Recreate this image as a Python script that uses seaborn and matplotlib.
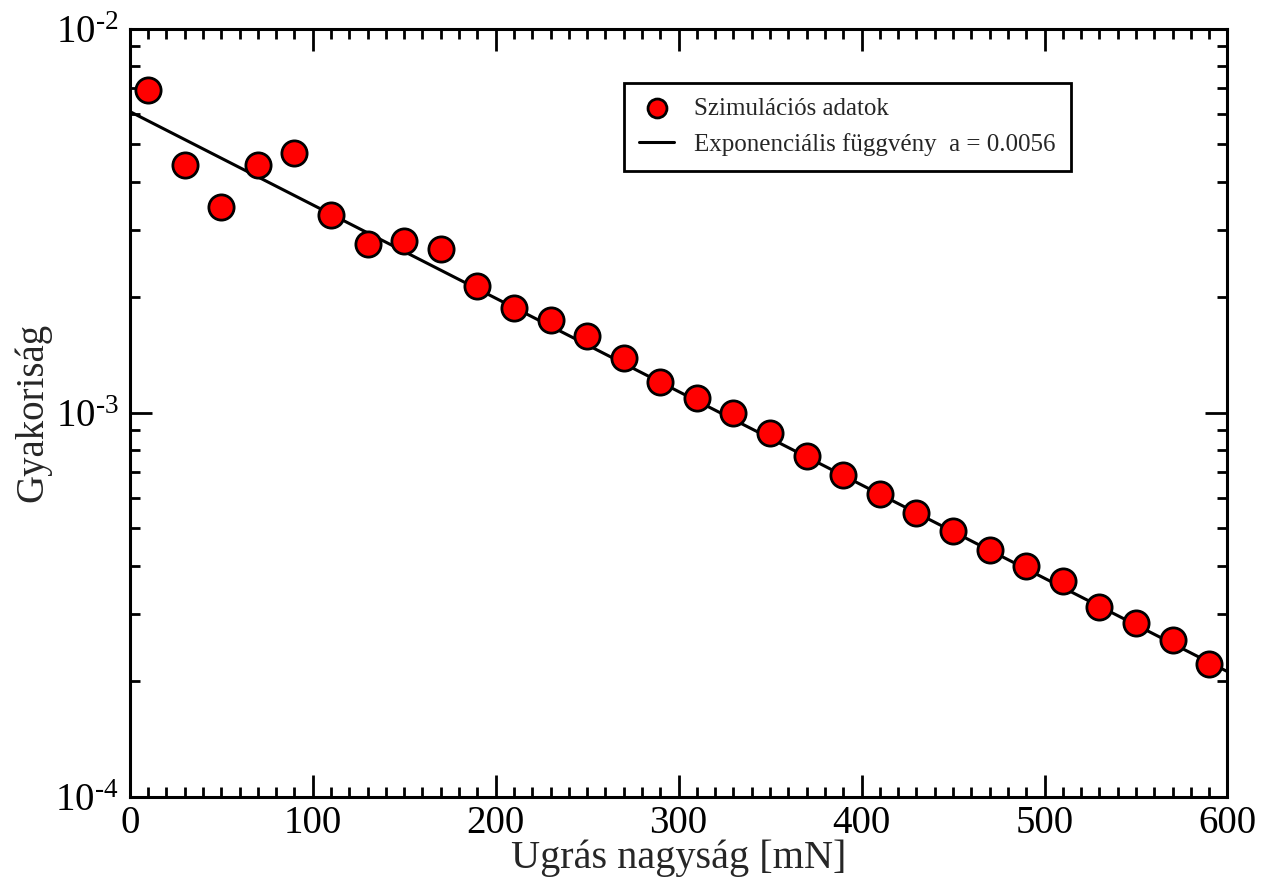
import numpy as np
import pandas as pd
import matplotlib
matplotlib.use("Agg")
import matplotlib.pyplot as plt
import matplotlib.ticker as mticker
import seaborn as sns

# Data
jump_size = [10, 30, 50, 70, 90, 110, 130, 150, 170, 190, 210, 230, 250, 270, 290,
             310, 330, 350, 370, 390, 410, 430, 450, 470, 490, 510, 530, 550, 570, 590]
frequency = [0.00693, 0.00442, 0.00343, 0.00441, 0.00474, 0.00328, 0.00275, 0.00281,
             0.00267, 0.00214, 0.00188, 0.00175, 0.00159, 0.00139, 0.00120, 0.00109,
             0.00100, 0.000887, 0.000773, 0.000690, 0.000615, 0.000549, 0.000493,
             0.000440, 0.000400, 0.000364, 0.000313, 0.000284, 0.000256, 0.000222]

# Exponential fit line (straight on log axis) - end points
fit_x = [0, 600]
fit_y = [0.00609, 0.000212]

sim_label = "Szimulációs adatok"
fit_label = "Exponenciális függvény  a = 0.0056"

df_sim = pd.DataFrame({"x": jump_size, "y": frequency})
df_fit = pd.DataFrame({"x": fit_x, "y": fit_y})

sns.set_style("ticks")
plt.rcParams["font.family"] = ["Liberation Serif", "DejaVu Serif"]
plt.rcParams["mathtext.fontset"] = "custom"
plt.rcParams["mathtext.rm"] = "Liberation Serif"
plt.rcParams["mathtext.it"] = "Liberation Serif:italic"

fig = plt.figure(figsize=(12.72, 8.82), dpi=100)
ax = fig.add_axes([0.102, 0.0964, 0.863, 0.871])

sns.lineplot(data=df_fit, x="x", y="y", color="black", linewidth=2.2,
             label=fit_label, ax=ax, zorder=2)
sns.scatterplot(data=df_sim, x="x", y="y", s=330, color="#ff0000",
                edgecolor="black", linewidth=2.0, label=sim_label, ax=ax, zorder=3)

ax.set_yscale("log")
ax.set_xlim(0, 600)
ax.set_ylim(1e-4, 1e-2)

# ticks
ax.xaxis.set_major_locator(mticker.MultipleLocator(100))
ax.xaxis.set_minor_locator(mticker.MultipleLocator(10))
ax.yaxis.set_major_locator(mticker.LogLocator(base=10, numticks=5))
ax.yaxis.set_minor_locator(mticker.LogLocator(base=10, subs=np.arange(2, 10), numticks=20))
ax.yaxis.set_minor_formatter(mticker.NullFormatter())
ax.yaxis.set_major_formatter(mticker.FuncFormatter(
    lambda v, p: r"$\mathregular{10^{\text{-}%d}}$" % abs(int(round(np.log10(v))))))

ax.tick_params(which="both", direction="in", top=True, right=True, width=2,
               labelsize=28, colors="black")
ax.tick_params(which="major", length=16, pad=6)
ax.tick_params(which="minor", length=7.5)
ax.tick_params(axis="y", which="major", pad=8)

for sp in ax.spines.values():
    sp.set_linewidth(2.2)
    sp.set_color("black")

ax.set_xlabel("Ugrás nagyság [mN]", fontsize=29, labelpad=-2)
ax.set_ylabel("Gyakoriság", fontsize=28, labelpad=3)

handles, labels = ax.get_legend_handles_labels()
order = [labels.index(sim_label), labels.index(fit_label)]
leg = ax.legend([handles[i] for i in order], [labels[i] for i in order],
                loc="upper right", bbox_to_anchor=(0.857, 0.930), borderaxespad=0,
                fontsize=18, frameon=True, fancybox=False, framealpha=1,
                edgecolor="black", handlelength=1.4, handletextpad=0.8,
                borderpad=0.6, labelspacing=0.5, markerscale=0.75)
leg.get_frame().set_linewidth(2.0)

fig.savefig("out.png", dpi=100)
